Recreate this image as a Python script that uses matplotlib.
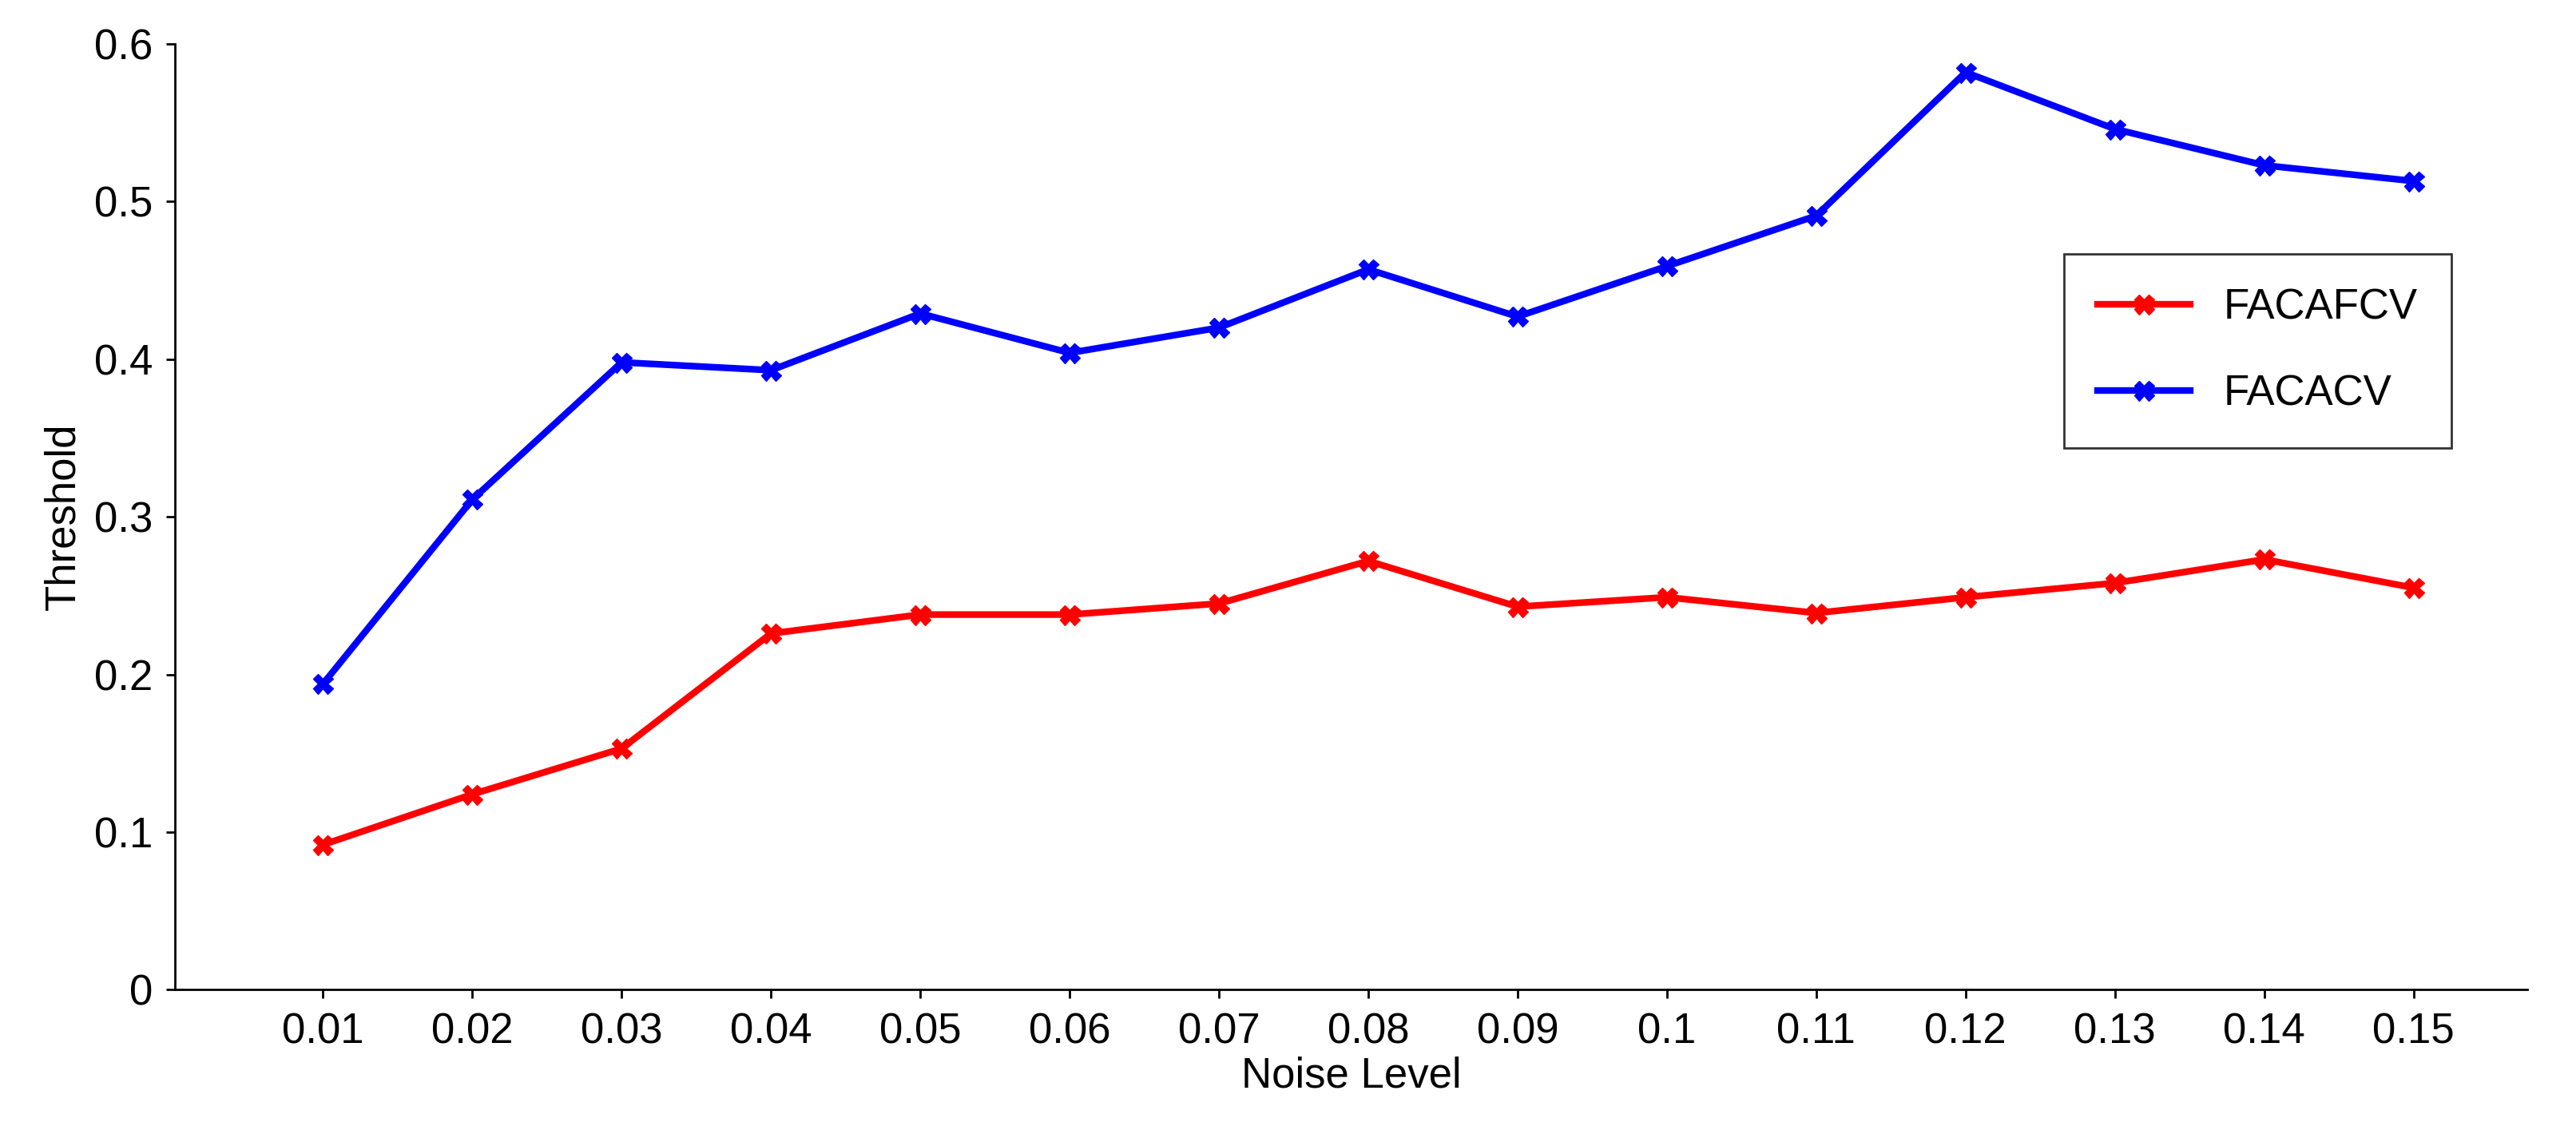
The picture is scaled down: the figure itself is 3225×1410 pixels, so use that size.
import matplotlib
matplotlib.use("Agg")
import matplotlib.pyplot as plt

noise_labels = ["0.01","0.02","0.03","0.04","0.05","0.06","0.07","0.08","0.09","0.1","0.11","0.12","0.13","0.14","0.15"]
facafcv = [0.092,0.124,0.153,0.226,0.238,0.238,0.245,0.272,0.243,0.249,0.239,0.249,0.258,0.273,0.255]
facacv = [0.194,0.311,0.398,0.393,0.429,0.404,0.420,0.457,0.427,0.459,0.491,0.582,0.546,0.523,0.513]

plt.rcParams['font.family'] = ['Liberation Sans', 'DejaVu Sans']
fig = plt.figure(figsize=(32.25, 14.1), dpi=100)
ax = fig.add_axes([0.068, 0.121, 0.913, 0.840])
x = list(range(1, len(noise_labels) + 1))
ax.plot(x, facafcv, color='#ff0000', lw=6, marker='X', ms=18, label='FACAFCV')
ax.plot(x, facacv, color='#0000ff', lw=6, marker='X', ms=18, label='FACACV')
ax.set_xlim(0.01, 15.76)
ax.set_ylim(0, 0.6)
ax.set_xticks(x)
ax.set_xticklabels(noise_labels)
ax.set_yticks([0,0.1,0.2,0.3,0.4,0.5,0.6])
ax.set_yticklabels(["0","0.1","0.2","0.3","0.4","0.5","0.6"])
ax.tick_params(labelsize=38, width=2, length=8, pad=12)
ax.spines['top'].set_visible(False)
ax.spines['right'].set_visible(False)
for s in ['left','bottom']:
    ax.spines[s].set_linewidth(2)
ax.set_xlabel('Noise Level', fontsize=38, labelpad=4)
ax.set_ylabel('Threshold', fontsize=38, labelpad=10)
leg = ax.legend(loc='upper left', bbox_to_anchor=(0.794, 0.80), fontsize=38,
                frameon=True, fancybox=False, edgecolor='black', handlelength=2.2,
                labelspacing=1.1, borderpad=0.8)
leg.get_frame().set_linewidth(2)
fig.savefig('out.png', dpi=100)
